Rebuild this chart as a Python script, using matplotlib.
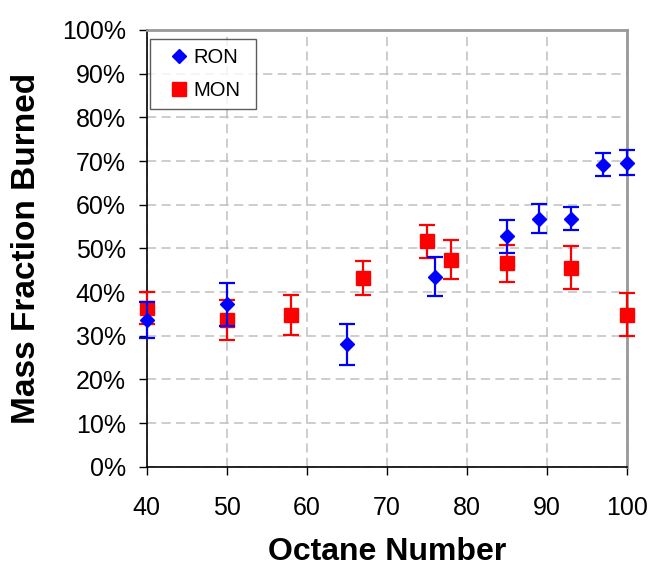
"""
Mass fraction burned vs octane number (RON / MON)
"""

import matplotlib
matplotlib.use("Agg")
import matplotlib.pyplot as plt
from matplotlib.lines import Line2D
from matplotlib.ticker import PercentFormatter

plt.rcParams['font.family'] = ['Liberation Sans', 'DejaVu Sans']

# RON series
ron_x = [40, 50, 65, 76, 85, 89, 93, 97, 100]
ron_y = [33.6, 37.2, 28.0, 43.5, 52.8, 56.8, 56.8, 69.2, 69.6]
ron_err = [4.2, 4.9, 4.7, 4.5, 3.8, 3.3, 2.7, 2.7, 2.9]

# MON series
mon_x = [40, 50, 58, 67, 75, 78, 85, 93, 100]
mon_y = [36.3, 33.6, 34.8, 43.2, 51.6, 47.4, 46.6, 45.6, 34.8]
mon_err = [3.7, 4.6, 4.6, 3.9, 3.7, 4.5, 4.2, 4.9, 4.9]

x_ticks = [40, 50, 60, 70, 80, 90, 100]
y_ticks = [0, 10, 20, 30, 40, 50, 60, 70, 80, 90, 100]

fig = plt.figure(figsize=(6.49, 5.66), dpi=100)
ax = fig.add_axes([0.226, 0.1754, 0.7397, 0.7716])

# MON drawn first so RON sits on top
ax.errorbar(mon_x, mon_y, yerr=mon_err, fmt='s', color='#ff0000',
            markersize=9.4, elinewidth=1.6, capsize=6, capthick=1.6,
            clip_on=False, zorder=3)
ax.errorbar(ron_x, ron_y, yerr=ron_err, fmt='D', color='#0000ff',
            markersize=7.6, elinewidth=1.6, capsize=6, capthick=1.6,
            clip_on=False, zorder=4)

ax.set_xlim(40, 100)
ax.set_ylim(0, 100)
ax.set_xticks(x_ticks)
ax.set_yticks(y_ticks)
ax.yaxis.set_major_formatter(PercentFormatter(decimals=0))

ax.grid(True, color='#c0c0c0', linestyle=(0, (6, 3.5)), linewidth=1.1)
ax.set_axisbelow(True)

ax.tick_params(axis='both', direction='out', length=6, width=1,
               labelsize=18, colors='black')
ax.tick_params(axis='y', pad=9)
ax.tick_params(axis='x', pad=15)

for side in ['left', 'bottom']:
    ax.spines[side].set_color('black')
    ax.spines[side].set_linewidth(1.2)
for side in ['top', 'right']:
    ax.spines[side].set_color('#999999')
    ax.spines[side].set_linewidth(2)

ax.set_xlabel('Octane Number', fontsize=23, fontweight='bold', labelpad=12)
ax.set_ylabel('Mass Fraction Burned', fontsize=24, fontweight='bold', labelpad=14)

handles = [
    Line2D([], [], marker='D', color='#0000ff', linestyle='none', markersize=7.6),
    Line2D([], [], marker='s', color='#ff0000', linestyle='none', markersize=9.4),
]
leg = ax.legend(handles, ['RON', 'MON'], loc='upper left', mode='expand',
                bbox_to_anchor=(0.007, 0.0, 0.221, 0.979), fontsize=14.5,
                frameon=True, fancybox=False, edgecolor='#333333',
                handlelength=2.0, handletextpad=-0.3, borderpad=0.45,
                labelspacing=0.7, borderaxespad=0)
leg.get_frame().set_linewidth(1)

fig.savefig('out.png', dpi=100)
